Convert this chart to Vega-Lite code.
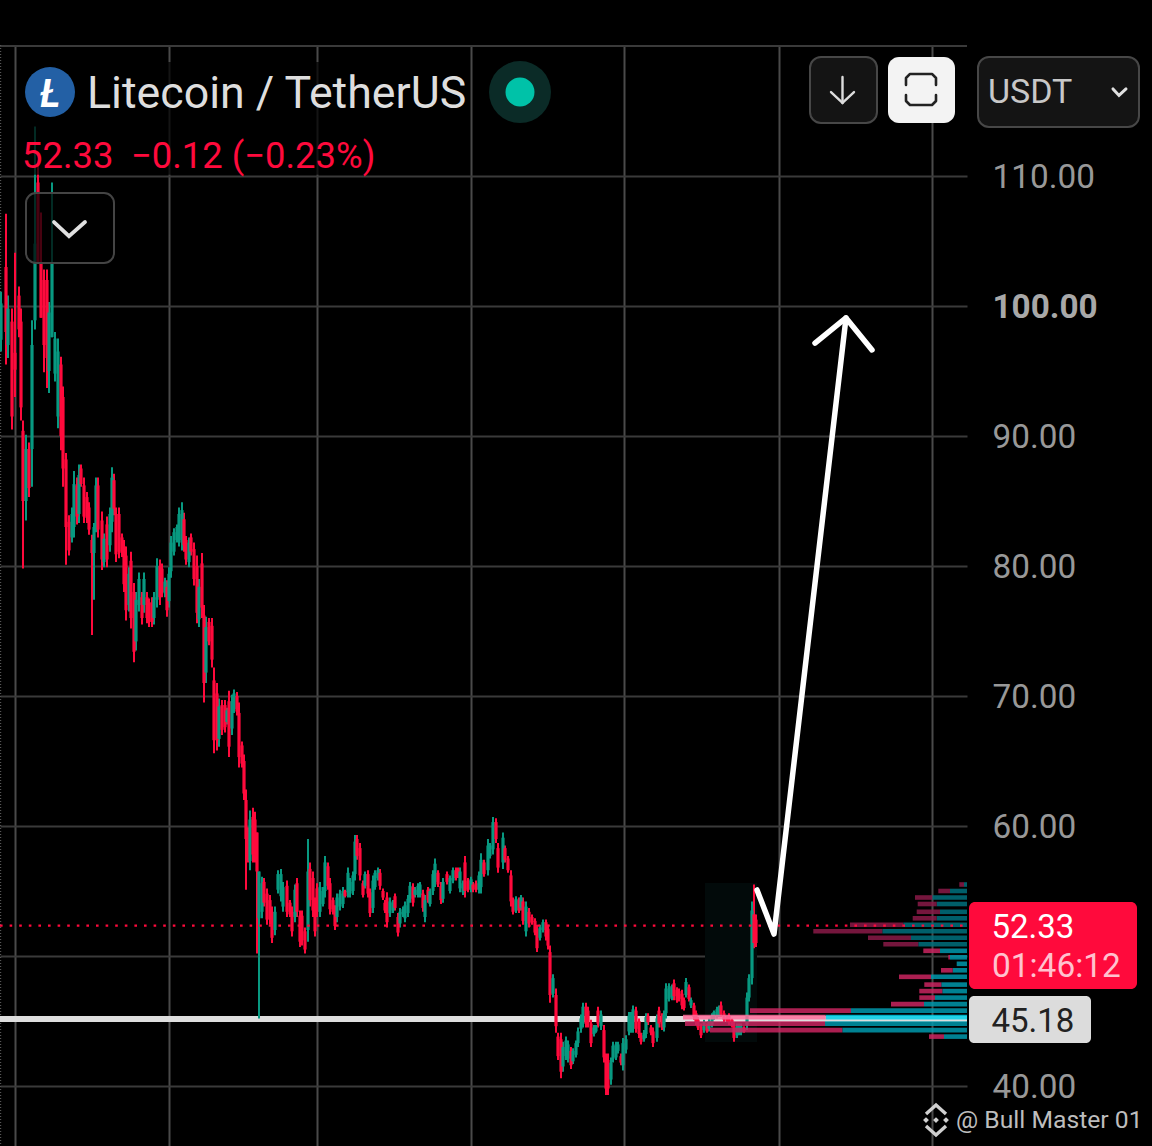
{"$schema":"https://vega.github.io/schema/vega-lite/v6.json","width":967,"height":1101,"autosize":{"type":"none"},"padding":{"left":0,"top":45,"right":185,"bottom":0},"background":"#000000","config":{"view":{"stroke":null},"text":{"font":"Roboto"}},
"layer":[
{"data":{"values":[{"t":705,"t2":757,"p":55.62,"p2":43.38}]},"mark":{"type":"rect","fill":"#020a0a"},"encoding":{"x":{"field":"t","type":"quantitative","scale":{"domain":[0,967],"nice":false,"zero":false},"axis":{"title":null,"orient":"top","values":[15,169,317,471,624,779,932],"labels":false,"ticks":false,"domain":false,"grid":true,"gridColor":"#4a4a4a","gridWidth":2}},"x2":{"field":"t2"},"y":{"field":"p","type":"quantitative","scale":{"domain":[35.385,120.077],"nice":false,"zero":false},"axis":{"title":null,"orient":"right","values":[40,50,60,70,80,90,100,110],"labelExpr":"datum.value==50?'':format(datum.value,'.2f')","ticks":false,"domain":false,"grid":true,"gridColor":"#3a3a3a","gridWidth":2,"labelFont":"Roboto","labelFontSize":33.3,"labelPadding":25,"labelOffset":1,"labelColor":{"condition":{"test":"datum.value==100","value":"#a8a8a8"},"value":"#989898"},"labelFontWeight":{"condition":{"test":"datum.value==100","value":"bold"},"value":"normal"},"labelOverlap":false,"labelFlush":false,"labelAlign":"left"}},"y2":{"field":"p2"}}},
{"data":{"values":[{"t":0,"t2":967,"p":120.0}]},"mark":{"type":"rule","color":"#3a3a3a","strokeWidth":2},"encoding":{"x":{"field":"t","type":"quantitative"},"x2":{"field":"t2"},"y":{"field":"p","type":"quantitative"}}},
{"data":{"values":[{"t":0.6}]},"mark":{"type":"rule","color":"#555555","strokeWidth":1.2,"strokeDash":[1,2]},"encoding":{"x":{"field":"t","type":"quantitative"}}},
{"data":{"values":[{"t":0,"t2":967,"p":45.15}]},"mark":{"type":"rule","color":"#dedede","strokeWidth":6},"encoding":{"x":{"field":"t","type":"quantitative"},"x2":{"field":"t2"},"y":{"field":"p","type":"quantitative"}}},
{"data":{"name":"candles","values":[
{"t":1,"h":101.1,"l":96.5,"o":97.4,"c":100.2},{"t":6,"h":107.1,"l":95.5,"o":103,"c":98},{"t":8,"h":100.8,"l":96,"o":97,"c":99.8},{"t":12,"h":99.8,"l":90.5,"o":98.8,"c":91.5},{"t":15,"h":104.1,"l":93,"o":96.4,"c":95.1},{"t":19,"h":101.5,"l":97.6,"o":100.8,"c":98.2},{"t":21,"h":99.8,"l":91.2,"o":98.8,"c":92.2},{"t":23,"h":91.2,"l":79.8,"o":90.4,"c":85},{"t":26,"h":90.1,"l":83.5,"o":85,"c":89},{"t":29,"h":89.5,"l":85.3,"o":89,"c":86},{"t":32,"h":98.9,"l":86.1,"o":89,"c":97},{"t":35,"h":113.8,"l":98.2,"o":98.9,"c":104.8},{"t":38,"h":111.2,"l":103.3,"o":109.5,"c":103.3},{"t":41,"h":107.2,"l":99.1,"o":103.3,"c":99.1},{"t":44,"h":102.8,"l":94.9,"o":102,"c":97},{"t":47,"h":102.8,"l":93.7,"o":102,"c":96},{"t":49,"h":100.3,"l":93.3,"o":95,"c":99.5},{"t":52,"h":109.5,"l":97.6,"o":97.6,"c":103.3},{"t":55,"h":98,"l":94.2,"o":94.8,"c":97.5},{"t":58,"h":97.5,"l":90.6,"o":91.5,"c":96.5},{"t":61,"h":96.1,"l":88.9,"o":95.5,"c":90},{"t":63,"h":93.8,"l":86.1,"o":93,"c":87.5},{"t":66,"h":88.7,"l":80.1,"o":88.2,"c":83},
{"t":69,"h":83.9,"l":80.8,"o":83.4,"c":81.2},{"t":72,"h":84.5,"l":81.8,"o":82.2,"c":84},{"t":74,"h":87.3,"l":82.2,"o":83,"c":86.3},{"t":77,"h":86.8,"l":83.2,"o":86.2,"c":83.8},{"t":79,"h":87.8,"l":83.3,"o":84,"c":87},{"t":81,"h":87.8,"l":86.1,"o":87.5,"c":86.3},{"t":84,"h":86.8,"l":83.3,"o":86.2,"c":83.8},{"t":87,"h":85.7,"l":83.3,"o":85.3,"c":83.7},{"t":89,"h":84.9,"l":82.4,"o":84.5,"c":82.8},{"t":92,"h":82.4,"l":74.7,"o":82,"c":81},{"t":94,"h":83.3,"l":77.4,"o":81,"c":83},{"t":96,"h":86.8,"l":82.6,"o":83.2,"c":86.2},{"t":98,"h":86.8,"l":82.2,"o":86.2,"c":82.8},{"t":102,"h":84.2,"l":79.7,"o":83.5,"c":80.5},{"t":104,"h":82.5,"l":79.9,"o":80.3,"c":82.1},{"t":107,"h":83.8,"l":79.9,"o":83.2,"c":80.5},{"t":110,"h":84.5,"l":81.1,"o":81.6,"c":84},{"t":112,"h":87.6,"l":82.6,"o":83.4,"c":86.8},{"t":114,"h":87.1,"l":83.9,"o":86.6,"c":84.4},{"t":116,"h":84.5,"l":80.3,"o":84,"c":80.9},{"t":119,"h":84.5,"l":80.6,"o":84,"c":81.1},{"t":122,"h":82.5,"l":80.7,"o":82.2,"c":81},{"t":124,"h":82,"l":78,"o":81.5,"c":78.6},{"t":126,"h":81.5,"l":75.8,"o":80.8,"c":76.6},{"t":129,"h":79.9,"l":76.5,"o":77,"c":79.4},{"t":131,"h":81.1,"l":75.2,"o":80.4,"c":76},{"t":134,"h":78.7,"l":72.6,"o":78,"c":73.4},{"t":136,"h":78,"l":73.5,"o":74.2,"c":77.4},{"t":139,"h":79.5,"l":76.5,"o":77,"c":79},{"t":142,"h":78,"l":75.5,"o":77.6,"c":76},{"t":144,"h":79.5,"l":76.4,"o":77,"c":79},{"t":147,"h":78,"l":75.6,"o":77.6,"c":76},{"t":149,"h":77.5,"l":75.3,"o":77.2,"c":75.7},{"t":152,"h":77.6,"l":75.3,"o":77.2,"c":75.7},{"t":154,"h":78,"l":75.5,"o":76,"c":77.6},{"t":157,"h":80.6,"l":76.8,"o":77.4,"c":80},{"t":160,"h":80.5,"l":77,"o":80,"c":77.6},{"t":162,"h":80.2,"l":77.6,"o":79.8,"c":78},{"t":165,"h":79.1,"l":77.6,"o":77.9,"c":78.8},{"t":167,"h":78.9,"l":76.1,"o":78.4,"c":76.6},{"t":169,"h":79.9,"l":76.8,"o":77.3,"c":79.4},{"t":171,"h":82.3,"l":79.1,"o":79.6,"c":81.8},{"t":174,"h":82.9,"l":80.8,"o":81.1,"c":82.6},{"t":177,"h":83.2,"l":81.8,"o":82,"c":83},{"t":179,"h":84.5,"l":81.5,"o":82,"c":84},{"t":182,"h":84.9,"l":81.2,"o":81.8,"c":84.3},{"t":184,"h":84.1,"l":81.1,"o":83.6,"c":81.6},{"t":186,"h":82.3,"l":80.1,"o":82,"c":80.5},{"t":189,"h":82.2,"l":79.9,"o":80.3,"c":81.8},{"t":191,"h":82.5,"l":80.8,"o":82.2,"c":81.1},{"t":194,"h":81.8,"l":78.5,"o":81.3,"c":79},{"t":197,"h":80.8,"l":75.6,"o":80,"c":76.4},{"t":199,"h":79,"l":75.3,"o":75.9,"c":78.4},{"t":202,"h":81,"l":76,"o":80.2,"c":76.8},{"t":204,"h":77,"l":69.5,"o":76.2,"c":71},{"t":206,"h":76.1,"l":71,"o":71.8,"c":75.3},{"t":209,"h":76,"l":73.9,"o":75.7,"c":74.2},{"t":212,"h":76,"l":72.2,"o":75.4,"c":72.8},{"t":214,"h":72.2,"l":65.6,"o":71.2,"c":66.6},{"t":217,"h":71,"l":65.8,"o":70.2,"c":66.6},{"t":219,"h":69.8,"l":66.1,"o":66.7,"c":69.2},{"t":222,"h":69.7,"l":67,"o":69.3,"c":67.4},{"t":225,"h":69.7,"l":67.2,"o":69.3,"c":67.6},{"t":227,"h":69.1,"l":67.8,"o":68,"c":68.9},{"t":229,"h":70.4,"l":65.3,"o":69.6,"c":66.1},{"t":232,"h":70.1,"l":67,"o":67.5,"c":69.6},{"t":234,"h":70.5,"l":68.7,"o":69,"c":70.2},{"t":237,"h":70.3,"l":68.5,"o":70,"c":68.8},{"t":239,"h":69.5,"l":64.5,"o":68.7,"c":65.3},{"t":242,"h":66.5,"l":64.5,"o":66.2,"c":64.8},{"t":244,"h":65.5,"l":62,"o":65,"c":62.5},{"t":246,"h":62.8,"l":55.1,"o":62,"c":59},
{"t":248,"h":59.9,"l":57.2,"o":59.5,"c":57.6},{"t":250,"h":61.2,"l":56.6,"o":57.3,"c":60.5},{"t":253,"h":61.4,"l":57.2,"o":60.7,"c":57.8},{"t":255,"h":61.1,"l":57.2,"o":60.5,"c":57.8},{"t":257,"h":59.5,"l":50.2,"o":59.5,"c":56.5},{"t":259,"h":56.5,"l":45.2,"o":52.9,"c":56.5},{"t":262,"h":56.1,"l":52.9,"o":53.4,"c":55.6},{"t":264,"h":56,"l":53.8,"o":55.7,"c":54.1},{"t":267,"h":55.2,"l":52.4,"o":54.8,"c":52.8},{"t":270,"h":54.7,"l":52.4,"o":54.3,"c":52.8},{"t":272,"h":53.8,"l":51,"o":53.4,"c":51.4},{"t":275,"h":53.8,"l":51.6,"o":52,"c":53.4},{"t":278,"h":56.6,"l":54.8,"o":55.1,"c":56.3},{"t":281,"h":56.7,"l":54.2,"o":54.6,"c":56.3},{"t":283,"h":55.7,"l":53.4,"o":53.8,"c":55.3},{"t":287,"h":55.8,"l":53,"o":55.4,"c":53.4},{"t":290,"h":54.3,"l":53,"o":54.1,"c":53.2},{"t":292,"h":53.8,"l":51.5,"o":53.4,"c":51.9},{"t":295,"h":55.5,"l":52.6,"o":53,"c":55.1},{"t":297,"h":56,"l":53,"o":55.6,"c":53.4},{"t":300,"h":53.5,"l":50.7,"o":53.1,"c":51.1},{"t":302,"h":53.5,"l":50.8,"o":53.1,"c":51.2},{"t":305,"h":52.2,"l":50.2,"o":51.9,"c":50.5},{"t":308,"h":59,"l":51.1,"o":52,"c":56.5},{"t":310,"h":57.2,"l":53.8,"o":56.7,"c":54.3},{"t":313,"h":56.5,"l":53,"o":56,"c":53.5},{"t":315,"h":54.5,"l":51.5,"o":54.1,"c":51.9},{"t":317,"h":55.6,"l":53,"o":55.2,"c":53.4},{"t":320,"h":55.7,"l":53,"o":53.4,"c":55.3},{"t":323,"h":55.3,"l":53.8,"o":54,"c":55},{"t":325,"h":57.7,"l":54.5,"o":55,"c":57.2},{"t":328,"h":57.2,"l":55.1,"o":56.9,"c":55.4},{"t":330,"h":56,"l":53.2,"o":55.6,"c":53.6},{"t":333,"h":54.5,"l":53.2,"o":54.3,"c":53.4},{"t":335,"h":53.9,"l":52,"o":53.6,"c":52.3},{"t":337,"h":54.8,"l":52.6,"o":53,"c":54.5},{"t":340,"h":55.1,"l":53.5,"o":53.8,"c":54.8},{"t":343,"h":55.3,"l":53.7,"o":54,"c":55},{"t":345,"h":55.1,"l":54.5,"o":55,"c":54.6},{"t":348,"h":56.8,"l":54.5,"o":54.9,"c":56.4},{"t":350,"h":56,"l":54.5,"o":54.8,"c":55.7},{"t":353,"h":56.5,"l":54.7,"o":55,"c":56.2},{"t":355,"h":59.3,"l":55.8,"o":56.3,"c":58.8},{"t":357,"h":59.3,"l":57.4,"o":59,"c":57.7},{"t":360,"h":58.7,"l":55.8,"o":58.3,"c":56.2},{"t":363,"h":55.8,"l":54.5,"o":55.6,"c":54.7},{"t":365,"h":56.5,"l":55.2,"o":55.4,"c":56.3},{"t":368,"h":56.6,"l":54.5,"o":56.3,"c":54.8},{"t":370,"h":55.2,"l":53,"o":54.9,"c":53.3},{"t":373,"h":56.2,"l":53.3,"o":53.7,"c":55.8},{"t":375,"h":56.6,"l":55.1,"o":55.3,"c":56.4},{"t":378,"h":56.8,"l":55.8,"o":56,"c":56.6},{"t":380,"h":56.7,"l":55.1,"o":56.4,"c":55.4},{"t":383,"h":55.2,"l":54.3,"o":55,"c":54.5},{"t":385,"h":54.3,"l":53.3,"o":54.1,"c":53.5},{"t":387,"h":54.9,"l":52.2,"o":54.5,"c":52.6},{"t":390,"h":54.5,"l":53,"o":53.3,"c":54.2},{"t":393,"h":54.3,"l":53.3,"o":53.5,"c":54.1},{"t":395,"h":54.8,"l":53.5,"o":54.6,"c":53.7},{"t":398,"h":53.3,"l":51.5,"o":53,"c":51.8},{"t":400,"h":53.7,"l":52.2,"o":52.5,"c":53.4},{"t":403,"h":53.8,"l":53,"o":53.2,"c":53.6},{"t":405,"h":54.2,"l":52.6,"o":52.9,"c":53.9},{"t":408,"h":54.7,"l":53,"o":53.3,"c":54.4},{"t":410,"h":55.7,"l":54.1,"o":54.4,"c":55.4},{"t":413,"h":55.6,"l":53.8,"o":55.3,"c":54.1},{"t":415,"h":55.3,"l":54.5,"o":54.7,"c":55.1},{"t":418,"h":55.6,"l":54.5,"o":54.7,"c":55.4},{"t":420,"h":55.7,"l":54.5,"o":54.7,"c":55.5},{"t":423,"h":55.1,"l":53.4,"o":54.8,"c":53.7},{"t":425,"h":54.7,"l":52.6,"o":53,"c":54.3},{"t":428,"h":55.3,"l":54.1,"o":55.1,"c":54.3},{"t":430,"h":55.2,"l":53.8,"o":54,"c":55},{"t":433,"h":56.6,"l":54.7,"o":55,"c":56.3},{"t":435,"h":57.5,"l":55.3,"o":55.7,"c":57.1},{"t":438,"h":56.6,"l":55.3,"o":56.4,"c":55.5},{"t":441,"h":55.7,"l":54,"o":55.4,"c":54.3},{"t":443,"h":56,"l":54.1,"o":54.4,"c":55.7},{"t":447,"h":56.5,"l":55.5,"o":56.3,"c":55.7},{"t":450,"h":56.2,"l":54.8,"o":55,"c":56},{"t":453,"h":56.8,"l":55.6,"o":55.8,"c":56.6},{"t":456,"h":56.8,"l":55.8,"o":56.6,"c":56},{"t":458,"h":56.8,"l":56,"o":56.7,"c":56.1},{"t":460,"h":56.8,"l":54.9,"o":55.2,"c":56.5},{"t":463,"h":55.8,"l":54.7,"o":54.9,"c":55.6},{"t":465,"h":57.7,"l":54.5,"o":57.2,"c":55},{"t":468,"h":56,"l":54.9,"o":55.8,"c":55.1},{"t":471,"h":56.1,"l":54.9,"o":55.1,"c":55.9},{"t":473,"h":55.7,"l":54.9,"o":55.5,"c":55.1},{"t":476,"h":55.8,"l":54.9,"o":55.6,"c":55.1},{"t":479,"h":56.5,"l":54.8,"o":55.1,"c":56.2},{"t":481,"h":57.9,"l":54.8,"o":55.3,"c":57.4},{"t":484,"h":57.4,"l":56.1,"o":57.2,"c":56.3},{"t":488,"h":59,"l":56.2,"o":56.6,"c":58.5},{"t":490,"h":58.7,"l":57.5,"o":57.7,"c":58.5},{"t":493,"h":60.7,"l":57.8,"o":58.2,"c":60.3},{"t":496,"h":60.6,"l":58.7,"o":60.3,"c":59},{"t":498,"h":58.7,"l":56.4,"o":58.3,"c":56.8},{"t":503,"h":59.5,"l":56.7,"o":57.2,"c":59.1},{"t":505,"h":58.5,"l":57.2,"o":58.3,"c":57.4},{"t":508,"h":57.7,"l":56.4,"o":57.5,"c":56.6},{"t":511,"h":56.6,"l":53.8,"o":56.2,"c":54.2},{"t":513,"h":54.5,"l":53.2,"o":54.3,"c":53.4},{"t":516,"h":54.6,"l":53.3,"o":53.5,"c":54.4},{"t":519,"h":54.5,"l":53.3,"o":54.3,"c":53.5},{"t":521,"h":54.7,"l":53.5,"o":53.7,"c":54.5},{"t":523,"h":54.5,"l":52.4,"o":54.2,"c":52.7},{"t":526,"h":54.2,"l":51.5,"o":51.9,"c":53.8},{"t":529,"h":53.7,"l":52.2,"o":53.4,"c":52.5},
{"t":532,"h":53.2,"l":52.4,"o":53,"c":52.6},{"t":535,"h":52.9,"l":51.6,"o":52.7,"c":51.8},{"t":537,"h":52.4,"l":50.3,"o":52.1,"c":50.6},{"t":540,"h":52.4,"l":51.2,"o":51.4,"c":52.2},{"t":543,"h":52.8,"l":51.8,"o":52,"c":52.6},{"t":546,"h":52.8,"l":51.2,"o":52.6,"c":51.5},{"t":548,"h":52.4,"l":50.5,"o":52.1,"c":50.8},{"t":550,"h":50.8,"l":46.4,"o":50.3,"c":47},{"t":553,"h":48.6,"l":46.8,"o":47.1,"c":48.3},{"t":556,"h":47.5,"l":44.1,"o":47,"c":44.6},{"t":558,"h":44.1,"l":42,"o":43.8,"c":42.3},{"t":561,"h":44.1,"l":40.6,"o":43.6,"c":41.1},{"t":563,"h":43.4,"l":41.1,"o":41.5,"c":43},{"t":566,"h":43.8,"l":42,"o":42.3,"c":43.5},{"t":568,"h":43.5,"l":41.8,"o":42.1,"c":43.2},{"t":571,"h":43,"l":41.3,"o":42.7,"c":41.6},{"t":573,"h":42.9,"l":41.7,"o":41.9,"c":42.7},{"t":576,"h":43.5,"l":42.2,"o":42.4,"c":43.3},{"t":578,"h":44.5,"l":43,"o":43.3,"c":44.2},{"t":581,"h":45.5,"l":44.1,"o":44.4,"c":45.2},{"t":583,"h":46.4,"l":44.5,"o":44.8,"c":46.1},{"t":586,"h":46.4,"l":44.5,"o":46.1,"c":44.8},{"t":588,"h":46.1,"l":44.5,"o":45.8,"c":44.8},{"t":591,"h":45.1,"l":43,"o":44.8,"c":43.3},{"t":594,"h":44.7,"l":43.8,"o":44,"c":44.5},{"t":596,"h":44.7,"l":44.1,"o":44.2,"c":44.6},{"t":598,"h":46.1,"l":44.5,"o":45.8,"c":44.8},{"t":601,"h":45.8,"l":44.3,"o":44.6,"c":45.5},{"t":604,"h":44.7,"l":41.8,"o":44.3,"c":42.2},{"t":606,"h":42.5,"l":39.3,"o":42,"c":39.8},{"t":608,"h":42.5,"l":39.3,"o":42,"c":39.8},{"t":611,"h":42.2,"l":40.1,"o":40.5,"c":41.8},{"t":613,"h":43.4,"l":41.8,"o":42.1,"c":43.1},{"t":616,"h":43.4,"l":42,"o":42.2,"c":43.2},{"t":618,"h":43.4,"l":42.5,"o":42.7,"c":43.2},{"t":621,"h":42.5,"l":41.6,"o":42.3,"c":41.8},{"t":623,"h":43.7,"l":41.2,"o":41.6,"c":43.3},{"t":626,"h":43.9,"l":42.5,"o":42.8,"c":43.6},{"t":629,"h":45.7,"l":43.9,"o":44.2,"c":45.4},{"t":631,"h":45.7,"l":44.1,"o":44.4,"c":45.4},{"t":633,"h":46.2,"l":44.1,"o":44.4,"c":45.9},{"t":636,"h":46.1,"l":44.1,"o":45.8,"c":44.4},{"t":639,"h":45.2,"l":43.7,"o":45,"c":44},{"t":641,"h":44.1,"l":43.2,"o":43.9,"c":43.4},{"t":644,"h":44.3,"l":43.4,"o":43.6,"c":44.1},{"t":646,"h":45.6,"l":43.7,"o":44,"c":45.3},{"t":648,"h":45.6,"l":44.7,"o":45.4,"c":44.9},{"t":651,"h":44.7,"l":43.9,"o":44.5,"c":44.1},{"t":653,"h":44.5,"l":43,"o":44.2,"c":43.3},{"t":657,"h":45.5,"l":43.4,"o":43.7,"c":45.2},{"t":659,"h":46.1,"l":44.5,"o":45.8,"c":44.8},{"t":662,"h":45.6,"l":44.3,"o":45.4,"c":44.5},{"t":664,"h":45.8,"l":44.2,"o":44.5,"c":45.5},{"t":666,"h":47.9,"l":45.2,"o":45.6,"c":47.5},{"t":669,"h":47.9,"l":46.5,"o":46.7,"c":47.7},{"t":672,"h":47.8,"l":46.6,"o":46.8,"c":47.6},{"t":674,"h":48.2,"l":46.6,"o":47.9,"c":46.9},{"t":677,"h":47.6,"l":46.4,"o":47.4,"c":46.6},{"t":679,"h":47.5,"l":46.5,"o":47.3,"c":46.7},{"t":682,"h":47.4,"l":45.9,"o":47.1,"c":46.2},{"t":684,"h":46.8,"l":45.8,"o":46.6,"c":46},{"t":686,"h":48.3,"l":46.8,"o":47,"c":48},{"t":689,"h":47.8,"l":46.5,"o":47.6,"c":46.7},{"t":691,"h":46.8,"l":46,"o":46.2,"c":46.6},{"t":694,"h":46.4,"l":45.1,"o":46.2,"c":45.3},{"t":696,"h":45.8,"l":44.7,"o":45.6,"c":44.9},{"t":698,"h":45.3,"l":44.3,"o":45.1,"c":44.5},{"t":701,"h":44.8,"l":43.7,"o":44.6,"c":43.9},{"t":704,"h":45.1,"l":44.1,"o":44.3,"c":44.9},{"t":707,"h":44.8,"l":44.1,"o":44.7,"c":44.2},{"t":709,"h":45.2,"l":44.2,"o":44.4,"c":45},{"t":712,"h":45.6,"l":44.5,"o":44.7,"c":45.4},{"t":714,"h":45.8,"l":45.1,"o":45.2,"c":45.7},{"t":717,"h":46.1,"l":45.2,"o":45.4,"c":45.9},{"t":719,"h":46.2,"l":45.3,"o":45.5,"c":46},{"t":721,"h":46.5,"l":45.3,"o":46.2,"c":45.5},{"t":724,"h":45.8,"l":44.9,"o":45.6,"c":45.1},{"t":727,"h":45.4,"l":44.9,"o":45.3,"c":45},{"t":729,"h":45.6,"l":44.7,"o":45.4,"c":44.9},{"t":732,"h":45.2,"l":44.5,"o":45.1,"c":44.6},{"t":734,"h":44.9,"l":43.4,"o":44.6,"c":43.7},{"t":737,"h":44.8,"l":43.7,"o":43.9,"c":44.6},{"t":739,"h":44.8,"l":43.9,"o":44.1,"c":44.6},{"t":741,"h":44.8,"l":43.9,"o":44.1,"c":44.6},{"t":744,"h":44.6,"l":44.1,"o":44.5,"c":44.2},{"t":747,"h":47.2,"l":44.3,"o":44.7,"c":46.8},{"t":749,"h":48.6,"l":46.5,"o":46.8,"c":48.3},{"t":752,"h":54.2,"l":47.8,"o":48.3,"c":53.5},{"t":754,"h":55.5,"l":50.6,"o":53.2,"c":51},{"t":756,"h":53.2,"l":50.7,"o":52.8,"c":51}
]},"mark":{"type":"rule","strokeWidth":2},"encoding":{"x":{"field":"t","type":"quantitative"},"y":{"field":"h","type":"quantitative"},"y2":{"field":"l"},"color":{"condition":{"test":"datum.c>=datum.o","value":"#089981"},"value":"#ff0a3c"}}},
{"data":{"name":"candles"},"mark":{"type":"rule","strokeWidth":3.2},"encoding":{"x":{"field":"t","type":"quantitative"},"y":{"field":"o","type":"quantitative"},"y2":{"field":"c"},"color":{"condition":{"test":"datum.c>=datum.o","value":"#089981"},"value":"#ff0a3c"}}},
{"data":{"values":[
{"p":55.5,"a":964,"b":967,"k":"up-dim"},{"p":55.5,"a":959.3,"b":964,"k":"down-dim"},{"p":55,"a":950,"b":967,"k":"up-dim"},{"p":55,"a":938.3,"b":950,"k":"down-dim"},{"p":54.5,"a":932.3,"b":967,"k":"up-dim"},{"p":54.5,"a":915,"b":932.3,"k":"down-dim"},{"p":54,"a":936.7,"b":967,"k":"up-dim"},{"p":54,"a":917.7,"b":936.7,"k":"down-dim"},{"p":53.4,"a":940,"b":967,"k":"up-dim"},{"p":53.4,"a":916.7,"b":940,"k":"down-dim"},{"p":52.9,"a":936.7,"b":967,"k":"up-dim"},{"p":52.9,"a":912.7,"b":936.7,"k":"down-dim"},{"p":52.4,"a":903.3,"b":967,"k":"up-dim"},{"p":52.4,"a":850,"b":903.3,"k":"down-dim"},{"p":51.9,"a":882.3,"b":967,"k":"up-dim"},{"p":51.9,"a":813.3,"b":882.3,"k":"down-dim"},{"p":51.4,"a":911,"b":967,"k":"up-dim"},{"p":51.4,"a":868,"b":911,"k":"down-dim"},{"p":50.9,"a":918.3,"b":967,"k":"up-dim"},{"p":50.9,"a":883.3,"b":918.3,"k":"down-dim"},
{"p":50.4,"a":940,"b":967,"k":"up-mid"},{"p":50.4,"a":923.3,"b":940,"k":"down-mid"},{"p":49.9,"a":950,"b":967,"k":"up-mid"},{"p":49.9,"a":948.3,"b":950,"k":"down-mid"},{"p":49.4,"a":956.7,"b":967,"k":"up-mid"},{"p":48.9,"a":952.7,"b":967,"k":"up-mid"},{"p":48.9,"a":941,"b":952.7,"k":"down-mid"},{"p":48.4,"a":931,"b":967,"k":"up-mid"},{"p":48.4,"a":899,"b":931,"k":"down-mid"},{"p":47.8,"a":941.3,"b":967,"k":"up-mid"},{"p":47.8,"a":924.3,"b":941.3,"k":"down-mid"},{"p":47.3,"a":942.3,"b":967,"k":"up-mid"},{"p":47.3,"a":919.3,"b":942.3,"k":"down-mid"},{"p":46.8,"a":935,"b":967,"k":"up-mid"},{"p":46.8,"a":919.3,"b":935,"k":"down-mid"},{"p":46.3,"a":924,"b":967,"k":"up-mid"},{"p":46.3,"a":891,"b":924,"k":"down-mid"},{"p":45.8,"a":851,"b":967,"k":"up-mid"},{"p":45.8,"a":750,"b":851,"k":"down-mid"},
{"p":45.3,"a":825.7,"b":967,"k":"up-hot"},{"p":45.3,"a":683,"b":825.7,"k":"down-hot"},{"p":44.8,"a":825,"b":967,"k":"up-mid"},{"p":44.8,"a":685,"b":825,"k":"down-mid"},{"p":44.3,"a":842.3,"b":967,"k":"up-mid"},{"p":44.3,"a":710,"b":842.3,"k":"down-mid"},{"p":43.8,"a":944,"b":967,"k":"up-mid"},{"p":43.8,"a":929,"b":944,"k":"down-mid"}
]},"mark":{"type":"rule","strokeWidth":4.6,"opacity":0.85},"encoding":{"x":{"field":"a","type":"quantitative"},"x2":{"field":"b"},"y":{"field":"p","type":"quantitative"},"color":{"field":"k","type":"nominal","legend":null,"scale":{"domain":["up-dim","down-dim","up-mid","down-mid","up-hot","down-hot"],"range":["#00707c","#8a1a48","#0098ab","#c9245f","#00d0e8","#ff6f9c"]}}}},
{"data":{"values":[{"t":0,"t2":967,"p":52.33}]},"mark":{"type":"rule","color":"#ff0a3c","strokeWidth":2.2,"strokeDash":[2.6,7]},"encoding":{"x":{"field":"t","type":"quantitative"},"x2":{"field":"t2"},"y":{"field":"p","type":"quantitative"}}},
{"data":{"values":[{"i":1,"g":"shaft","t":757,"p":55.08},{"i":2,"g":"shaft","t":774,"p":51.69},{"i":3,"g":"shaft","t":846,"p":99.08},{"i":1,"g":"head","t":815,"p":97.15},{"i":2,"g":"head","t":846,"p":99.08},{"i":3,"g":"head","t":872,"p":96.62}]},"mark":{"type":"line","color":"#ffffff","strokeWidth":5.5,"strokeCap":"round","strokeJoin":"round"},"encoding":{"x":{"field":"t","type":"quantitative"},"y":{"field":"p","type":"quantitative"},"detail":{"field":"g"},"order":{"field":"i"}}},
{"data":{"values":[{"t":20,"t2":470,"p":118.77,"p2":113.77},{"t":20,"t2":392,"p":113.77,"p2":110.1}]},"mark":{"type":"rect","fill":"#000000","opacity":0.72},"encoding":{"x":{"field":"t","type":"quantitative"},"x2":{"field":"t2"},"y":{"field":"p","type":"quantitative"},"y2":{"field":"p2"}}},
{"data":{"values":[{"t":26,"t2":114,"p":108.69,"p2":103.31}]},"mark":{"type":"rect","fill":"#000000","fillOpacity":0.72,"stroke":"#444444","strokeWidth":2,"cornerRadius":10},"encoding":{"x":{"field":"t","type":"quantitative"},"x2":{"field":"t2"},"y":{"field":"p","type":"quantitative"},"y2":{"field":"p2"}}},
{"data":{"values":[{"t":810,"t2":877,"p":119.15,"p2":114.08},{"t":978,"t2":1139,"p":119.15,"p2":113.77}]},"mark":{"type":"rect","fill":"#141414","stroke":"#474747","strokeWidth":2,"cornerRadius":11},"encoding":{"x":{"field":"t","type":"quantitative"},"x2":{"field":"t2"},"y":{"field":"p","type":"quantitative"},"y2":{"field":"p2"}}},
{"data":{"values":[{"t":888,"t2":955,"p":119.15,"p2":114.08}]},"mark":{"type":"rect","fill":"#f3f3f3","cornerRadius":11},"encoding":{"x":{"field":"t","type":"quantitative"},"x2":{"field":"t2"},"y":{"field":"p","type":"quantitative"},"y2":{"field":"p2"}}},
{"data":{"values":[{"t":969,"t2":1137,"p":54.15,"p2":47.46}]},"mark":{"type":"rect","fill":"#ff0a3c","cornerRadius":6},"encoding":{"x":{"field":"t","type":"quantitative"},"x2":{"field":"t2"},"y":{"field":"p","type":"quantitative"},"y2":{"field":"p2"}}},
{"data":{"values":[{"t":969,"t2":1091,"p":46.92,"p2":43.31}]},"mark":{"type":"rect","fill":"#dcdcdc","cornerRadius":5},"encoding":{"x":{"field":"t","type":"quantitative"},"x2":{"field":"t2"},"y":{"field":"p","type":"quantitative"},"y2":{"field":"p2"}}},
{"data":{"values":[{"i":1,"g":"chev","t":54,"p":106.46},{"i":2,"g":"chev","t":69,"p":105.38},{"i":3,"g":"chev","t":85,"p":106.46}]},"mark":{"type":"line","color":"#e0e0e0","strokeWidth":3.8,"strokeCap":"round"},"encoding":{"x":{"field":"t","type":"quantitative"},"y":{"field":"p","type":"quantitative"},"detail":{"field":"g"},"order":{"field":"i"}}},
{"data":{"values":[{"i":1,"g":"usdt","t":1113,"p":116.7},{"i":2,"g":"usdt","t":1119,"p":116.2},{"i":3,"g":"usdt","t":1126,"p":116.7}]},"mark":{"type":"line","color":"#e0e0e0","strokeWidth":3,"strokeCap":"round"},"encoding":{"x":{"field":"t","type":"quantitative"},"y":{"field":"p","type":"quantitative"},"detail":{"field":"g"},"order":{"field":"i"}}},
{"data":{"values":[{"i":1,"g":"shaft","t":842.5,"p":117.62},{"i":2,"g":"shaft","t":842.5,"p":115.62},{"i":1,"g":"tip","t":831,"p":116.46},{"i":2,"g":"tip","t":842.5,"p":115.62},{"i":3,"g":"tip","t":854,"p":116.46}]},"mark":{"type":"line","color":"#dddddd","strokeWidth":2.4,"strokeCap":"round"},"encoding":{"x":{"field":"t","type":"quantitative"},"y":{"field":"p","type":"quantitative"},"detail":{"field":"g"},"order":{"field":"i"}}},
{"data":{"values":[{"i":1,"g":"top","t":906,"p":117},{"i":2,"g":"top","t":906,"p":117.54},{"i":3,"g":"top","t":910,"p":117.85},{"i":4,"g":"top","t":932,"p":117.85},{"i":5,"g":"top","t":936,"p":117.54},{"i":6,"g":"top","t":936,"p":117},{"i":1,"g":"bot","t":906,"p":116.23},{"i":2,"g":"bot","t":906,"p":115.77},{"i":3,"g":"bot","t":910,"p":115.46},{"i":4,"g":"bot","t":932,"p":115.46},{"i":5,"g":"bot","t":936,"p":115.77},{"i":6,"g":"bot","t":936,"p":116.23}]},"mark":{"type":"line","color":"#222222","strokeWidth":2.6,"strokeCap":"round","strokeJoin":"round"},"encoding":{"x":{"field":"t","type":"quantitative"},"y":{"field":"p","type":"quantitative"},"detail":{"field":"g"},"order":{"field":"i"}}},
{"data":{"values":[{"i":1,"g":"u","t":926,"p":37.85},{"i":2,"g":"u","t":936,"p":38.54},{"i":3,"g":"u","t":946,"p":37.85},{"i":1,"g":"d","t":926,"p":36.92},{"i":2,"g":"d","t":936,"p":36.23},{"i":3,"g":"d","t":946,"p":36.92}]},"mark":{"type":"line","color":"#d0d0d0","strokeWidth":3.4},"encoding":{"x":{"field":"t","type":"quantitative"},"y":{"field":"p","type":"quantitative"},"detail":{"field":"g"},"order":{"field":"i"}}},
{"data":{"values":[{"t":926,"p":37.38},{"t":936,"p":37.38},{"t":946,"p":37.38}]},"mark":{"type":"point","shape":"diamond","filled":true,"color":"#d0d0d0","opacity":1,"size":34},"encoding":{"x":{"field":"t","type":"quantitative"},"y":{"field":"p","type":"quantitative"}}},
{"data":{"values":[{"t":50,"p":116.46}]},"mark":{"type":"point","shape":"circle","filled":true,"color":"#2360a5","opacity":1,"size":2500},"encoding":{"x":{"field":"t","type":"quantitative"},"y":{"field":"p","type":"quantitative"}}},
{"data":{"values":[{"t":520,"p":116.46}]},"mark":{"type":"point","shape":"circle","filled":true,"color":"#0b2b27","opacity":1,"size":3844},"encoding":{"x":{"field":"t","type":"quantitative"},"y":{"field":"p","type":"quantitative"}}},
{"data":{"values":[{"t":520,"p":116.46}]},"mark":{"type":"point","shape":"circle","filled":true,"color":"#00c2a8","opacity":1,"size":841},"encoding":{"x":{"field":"t","type":"quantitative"},"y":{"field":"p","type":"quantitative"}}},
{"data":{"values":[{"t":50,"p":115.3,"s":"Ł"}]},"mark":{"type":"text","align":"center","baseline":"alphabetic","color":"#ffffff","fontSize":38,"fontWeight":"bold","fontStyle":"italic"},"encoding":{"x":{"field":"t","type":"quantitative"},"y":{"field":"p","type":"quantitative"},"text":{"field":"s"}}},
{"data":{"values":[{"t":87,"p":115.23,"s":"Litecoin / TetherUS"}]},"mark":{"type":"text","align":"left","baseline":"alphabetic","color":"#dedede","fontSize":44.7},"encoding":{"x":{"field":"t","type":"quantitative"},"y":{"field":"p","type":"quantitative"},"text":{"field":"s"}}},
{"data":{"values":[{"t":22,"p":110.6,"s":"52.33"},{"t":131,"p":110.6,"s":"−0.12 (−0.23%)"}]},"mark":{"type":"text","align":"left","baseline":"alphabetic","color":"#ff0a3c","fontSize":36.4},"encoding":{"x":{"field":"t","type":"quantitative"},"y":{"field":"p","type":"quantitative"},"text":{"field":"s"}}},
{"data":{"values":[{"t":988,"p":115.62,"s":"USDT"}]},"mark":{"type":"text","align":"left","baseline":"alphabetic","color":"#c8c8c8","fontSize":34},"encoding":{"x":{"field":"t","type":"quantitative"},"y":{"field":"p","type":"quantitative"},"text":{"field":"s"}}},
{"data":{"values":[{"t":991.5,"p":51.38,"s":"52.33"}]},"mark":{"type":"text","align":"left","baseline":"alphabetic","color":"#ffffff","fontSize":33},"encoding":{"x":{"field":"t","type":"quantitative"},"y":{"field":"p","type":"quantitative"},"text":{"field":"s"}}},
{"data":{"values":[{"t":992,"p":48.38,"s":"01:46:12"}]},"mark":{"type":"text","align":"left","baseline":"alphabetic","color":"#ffc2cf","fontSize":33.4},"encoding":{"x":{"field":"t","type":"quantitative"},"y":{"field":"p","type":"quantitative"},"text":{"field":"s"}}},
{"data":{"values":[{"t":991.5,"p":44.15,"s":"45.18"}]},"mark":{"type":"text","align":"left","baseline":"alphabetic","color":"#222222","fontSize":33},"encoding":{"x":{"field":"t","type":"quantitative"},"y":{"field":"p","type":"quantitative"},"text":{"field":"s"}}},
{"data":{"values":[{"t":956,"p":36.77,"s":"@ Bull Master 01"}]},"mark":{"type":"text","align":"left","baseline":"alphabetic","color":"#bdbdbd","fontSize":24.7},"encoding":{"x":{"field":"t","type":"quantitative"},"y":{"field":"p","type":"quantitative"},"text":{"field":"s"}}}
]}
